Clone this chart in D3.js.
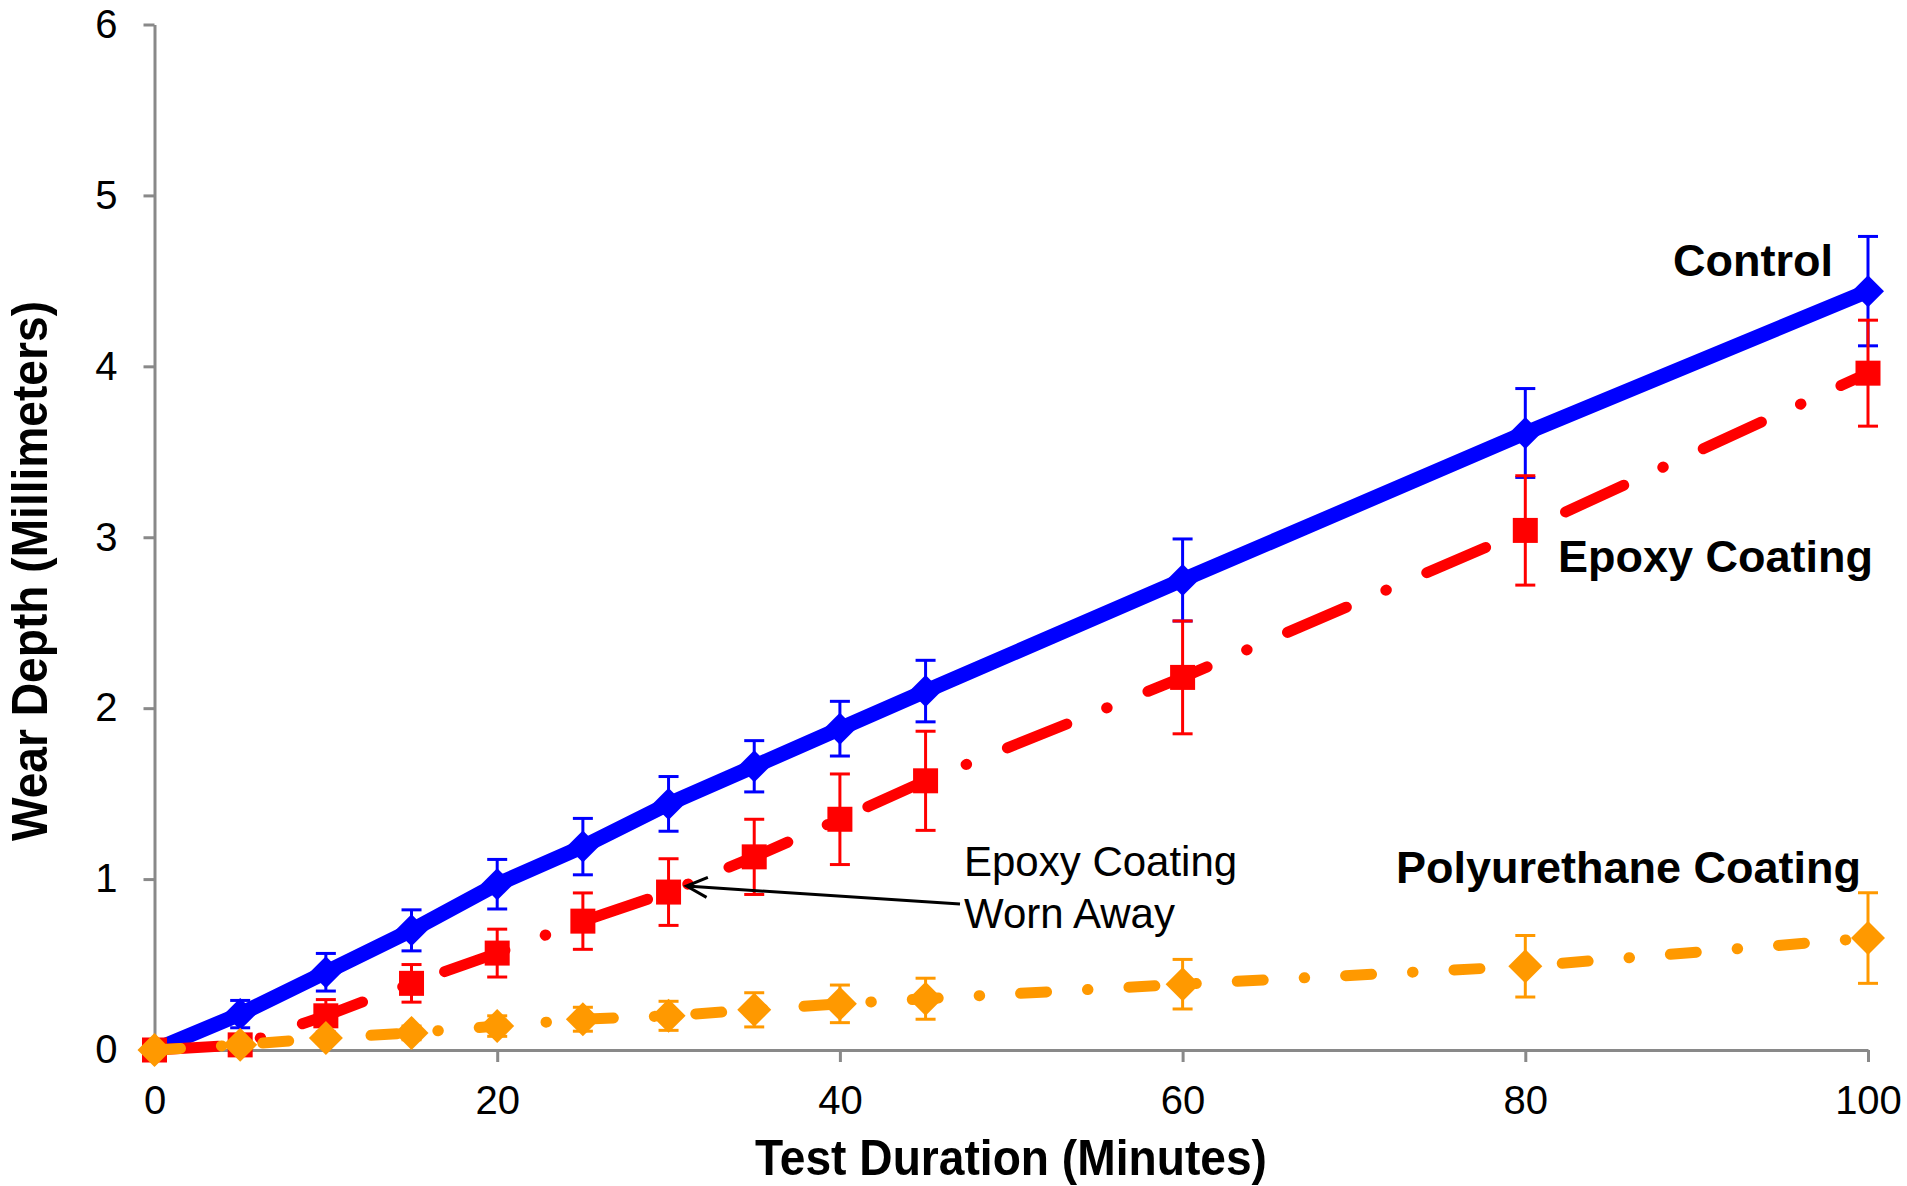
<!DOCTYPE html>
<html>
<head>
<meta charset="utf-8">
<title>Wear Depth vs Test Duration</title>
<script src="https://d3js.org/d3.v7.min.js"></script>
<style>
  body { margin: 0; background: #fff; }
  svg { display: block; font-family: "Liberation Sans", Arial, sans-serif; }
  .axis path, .axis line { stroke: #898989; stroke-width: 3px; }
  .axis text { font-size: 40px; fill: #000; }
  .title { font-size: 50px; font-weight: bold; }
  .series-label { font-size: 45px; font-weight: bold; }
  .note { font-size: 42px; }
</style>
</head>
<body>
<div id="chart"></div>
<script>
// Data
const minutes = [0, 5, 10, 15, 20, 25, 30, 35, 40, 45, 60, 80, 100];
const controlDepth = [0, 0.21, 0.455, 0.70, 0.97, 1.19, 1.44, 1.66, 1.88, 2.10, 2.75, 3.61, 4.44];
const controlErr   = [0, 0.08, 0.11, 0.12, 0.145, 0.165, 0.16, 0.15, 0.16, 0.18, 0.24, 0.26, 0.32];
const epoxyDepth   = [0, 0.03, 0.20, 0.39, 0.567, 0.754, 0.924, 1.13, 1.35, 1.575, 2.18, 3.04, 3.96];
const epoxyErr     = [0, 0.03, 0.095, 0.11, 0.14, 0.165, 0.195, 0.22, 0.265, 0.29, 0.33, 0.32, 0.31];
const polyDepth    = [0, 0.03, 0.07, 0.10, 0.14, 0.18, 0.20, 0.235, 0.27, 0.30, 0.385, 0.49, 0.655];
const polyErr      = [0, 0.02, 0.03, 0.04, 0.06, 0.07, 0.085, 0.10, 0.11, 0.12, 0.145, 0.18, 0.265];
const xTicks = [0, 20, 40, 60, 80, 100];
const yTicks = [0, 1, 2, 3, 4, 5, 6];

const width = 1907, height = 1186;
const x = d3.scaleLinear().domain([0, 100]).range([154.5, 1868]);
const y = d3.scaleLinear().domain([0, 6]).range([1050, 24.5]);

const svg = d3.select("#chart").append("svg")
    .attr("width", width)
    .attr("height", height);

svg.append("rect").attr("width", width).attr("height", height).attr("fill", "#fff");

// Axes
svg.append("g")
    .attr("class", "axis")
    .attr("transform", `translate(0,${y(0)})`)
    .call(d3.axisBottom(x).tickValues(xTicks).tickFormat(d3.format("d"))
        .tickSize(12).tickSizeOuter(0).tickPadding(24));

svg.append("g")
    .attr("class", "axis")
    .attr("transform", `translate(${x(0)},0)`)
    .call(d3.axisLeft(y).tickValues(yTicks).tickFormat(d3.format("d"))
        .tickSize(11).tickSizeOuter(0).tickPadding(26));

svg.selectAll(".axis").attr("font-family", null).attr("font-size", null);

// Axis titles
svg.append("text")
    .attr("class", "title")
    .attr("x", 1011).attr("y", 1175)
    .attr("text-anchor", "middle")
    .attr("textLength", 512).attr("lengthAdjust", "spacingAndGlyphs")
    .text("Test Duration (Minutes)");

svg.append("text")
    .attr("class", "title")
    .attr("transform", "translate(47,571) rotate(-90)")
    .attr("text-anchor", "middle")
    .attr("textLength", 540).attr("lengthAdjust", "spacingAndGlyphs")
    .text("Wear Depth (Millimeters)");

const series = [
  { name: "Control", values: controlDepth, err: controlErr, color: "#0000ff",
    width: 15, dash: null, marker: "diamond", size: 16 },
  { name: "Epoxy Coating", values: epoxyDepth, err: epoxyErr, color: "#ff0000",
    width: 11, dash: "64,43,0.5,44", marker: "square", size: 12.5 },
  { name: "Polyurethane Coating", values: polyDepth, err: polyErr, color: "#ff9900",
    width: 11, dash: "26,41,0.5,41", marker: "diamond", size: 17 }
];

const line = d3.line().x(d => x(d[0])).y(d => y(d[1]));

series.forEach(s => {
  const pts = minutes.map((m, i) => [m, s.values[i], s.err[i]]);
  const g = svg.append("g");

  g.append("path")
      .datum(pts)
      .attr("d", line)
      .attr("fill", "none")
      .attr("stroke", s.color)
      .attr("stroke-width", s.width)
      .attr("stroke-linejoin", "round")
      .attr("stroke-linecap", s.dash ? "round" : "butt")
      .attr("stroke-dasharray", s.dash);

  // error bars
  const eb = g.selectAll(".err").data(pts.filter(d => d[2] > 0)).enter().append("g")
      .attr("stroke", s.color).attr("stroke-width", 3);
  eb.append("line")
      .attr("x1", d => x(d[0])).attr("x2", d => x(d[0]))
      .attr("y1", d => y(d[1] - d[2])).attr("y2", d => y(d[1] + d[2]));
  eb.append("line")
      .attr("x1", d => x(d[0]) - 10).attr("x2", d => x(d[0]) + 10)
      .attr("y1", d => y(d[1] + d[2])).attr("y2", d => y(d[1] + d[2]));
  eb.append("line")
      .attr("x1", d => x(d[0]) - 10).attr("x2", d => x(d[0]) + 10)
      .attr("y1", d => y(d[1] - d[2])).attr("y2", d => y(d[1] - d[2]));

  // markers
  const r = s.size;
  if (s.marker === "square") {
    g.selectAll(".mk").data(pts).enter().append("rect")
        .attr("x", d => x(d[0]) - r).attr("y", d => y(d[1]) - r)
        .attr("width", 2 * r).attr("height", 2 * r)
        .attr("fill", s.color);
  } else {
    g.selectAll(".mk").data(pts).enter().append("path")
        .attr("d", `M0,${-r}L${r},0L0,${r}L${-r},0Z`)
        .attr("transform", d => `translate(${x(d[0])},${y(d[1])})`)
        .attr("fill", s.color);
  }
});

// Series labels
svg.append("text").attr("class", "series-label")
    .attr("x", 1833).attr("y", 276).attr("text-anchor", "end").text("Control");
svg.append("text").attr("class", "series-label")
    .attr("x", 1873).attr("y", 572).attr("text-anchor", "end").text("Epoxy Coating");
svg.append("text").attr("class", "series-label")
    .attr("x", 1861).attr("y", 883).attr("text-anchor", "end").text("Polyurethane Coating");

// Annotation
const noteX = 964, noteY = 876;
svg.append("text").attr("class", "note").attr("x", noteX).attr("y", noteY).text("Epoxy Coating");
svg.append("text").attr("class", "note").attr("x", noteX).attr("y", noteY + 52).text("Worn Away");

const tip = [x(30) + 18, y(epoxyDepth[6]) - 6];
const tail = [noteX - 4, noteY + 28];
const ang = Math.atan2(tail[1] - tip[1], tail[0] - tip[0]);
const armLen = 23, spread = 0.45;
const arm1 = [tip[0] + armLen * Math.cos(ang - spread), tip[1] + armLen * Math.sin(ang - spread)];
const arm2 = [tip[0] + armLen * Math.cos(ang + spread), tip[1] + armLen * Math.sin(ang + spread)];

svg.append("path")
    .attr("d", `M${tail}L${tip}M${arm1}L${tip}L${arm2}`)
    .attr("fill", "none")
    .attr("stroke", "#000")
    .attr("stroke-width", 3);
</script>
</body>
</html>
